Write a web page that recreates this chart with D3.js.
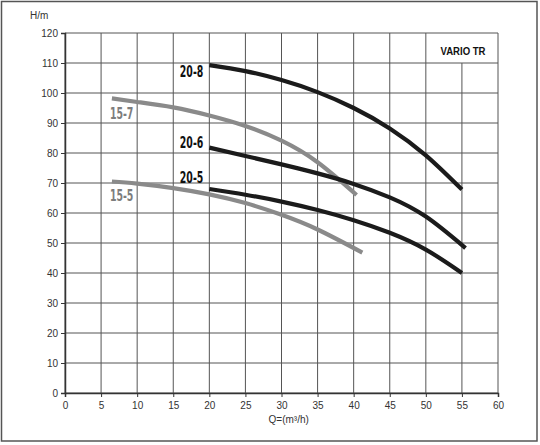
<!DOCTYPE html>
<html>
<head>
<meta charset="utf-8">
<script src="https://cdn.jsdelivr.net/npm/d3@7"></script>
<style>
  body { margin: 0; background: #fff; }
  svg { display: block; }
  .tick text { font-family: "Liberation Sans", Arial, sans-serif; font-size: 10px; fill: #333; }
</style>
</head>
<body>
<div id="chart"></div>
<script>
const width = 540,
    height = 445;

// Q in m3/h, H in m
const q15_5 = [6.5, 10, 15, 20, 25, 30, 35, 41.2];
const h15_5 = [70.5, 69.8, 68.3, 66.2, 63.3, 59.4, 54.5, 46.8];
const q15_7 = [6.5, 10, 15, 20, 25, 30, 35, 40.4];
const h15_7 = [98.2, 97.0, 95.2, 92.5, 89.0, 84.1, 76.9, 66.0];
const q20_5 = [20, 25, 30, 35, 40, 45, 50, 55];
const h20_5 = [68.0, 66.1, 63.8, 61.0, 57.6, 53.4, 47.8, 40.0];
const q20_6 = [20, 25, 30, 35, 40, 45, 50, 55.5];
const h20_6 = [81.8, 79.0, 76.2, 73.2, 69.7, 65.2, 58.8, 48.3];
const q20_8 = [20, 25, 30, 35, 40, 45, 50, 55];
const h20_8 = [109.3, 107.3, 104.3, 100.3, 95.0, 88.2, 79.2, 67.8];

const series = [
    { name: '15-5', q: q15_5, h: h15_5, color: '#8a8a8a' },
    { name: '15-7', q: q15_7, h: h15_7, color: '#8a8a8a' },
    { name: '20-5', q: q20_5, h: h20_5, color: '#1b1b1b' },
    { name: '20-6', q: q20_6, h: h20_6, color: '#1b1b1b' },
    { name: '20-8', q: q20_8, h: h20_8, color: '#1b1b1b' },
];

const xTicks = d3.range(0, 61, 5),
    yTicks = d3.range(0, 121, 10);

const x = d3.scaleLinear().domain([0, 60]).range([65, 498]),
    y = d3.scaleLinear().domain([0, 120]).range([393, 33]);

const svg = d3.select('#chart')
    .append('svg')
    .attr('width', width)
    .attr('height', height);

// outer frame
svg.append('rect')
    .attr('x', 1.5)
    .attr('y', 1.5)
    .attr('width', 535.5)
    .attr('height', 439.5)
    .attr('fill', 'none')
    .attr('stroke', '#555')
    .attr('stroke-width', 1.5);

// grid
const grid = svg.append('g').attr('stroke', '#555').attr('stroke-width', 1);

grid.selectAll('line.h')
    .data(yTicks)
    .enter()
    .append('line')
    .attr('x1', x(0))
    .attr('x2', x(60))
    .attr('y1', d => y(d))
    .attr('y2', d => y(d));

// the 55 line stops under the title box
grid.selectAll('line.v')
    .data(xTicks)
    .enter()
    .append('line')
    .attr('x1', d => x(d))
    .attr('x2', d => x(d))
    .attr('y1', y(0))
    .attr('y2', d => d === 55 ? y(110) : y(120));

// axes
svg.append('g')
    .attr('transform', `translate(0,${y(0)})`)
    .call(d3.axisBottom(x).tickValues(xTicks).tickSize(4).tickPadding(5))
    .call(g => g.select('.domain').attr('stroke', '#333').attr('stroke-width', 1.5))
    .call(g => g.selectAll('.tick line').attr('stroke', '#333'));

svg.append('g')
    .attr('transform', `translate(${x(0)},0)`)
    .call(d3.axisLeft(y).tickValues(yTicks).tickSize(4).tickPadding(3))
    .call(g => g.select('.domain').attr('stroke', '#333').attr('stroke-width', 1.5))
    .call(g => g.selectAll('.tick line').attr('stroke', '#333'));

// curves
const line = d3.line()
    .x(d => x(d[0]))
    .y(d => y(d[1]))
    .curve(d3.curveNatural);

svg.selectAll('path.curve')
    .data(series)
    .enter()
    .append('path')
    .attr('class', 'curve')
    .attr('d', d => line(d.q.map((v, i) => [v, d.h[i]])))
    .attr('fill', 'none')
    .attr('stroke', d => d.color)
    .attr('stroke-width', 4.2);

// curve labels, nudged off each curve's first point
const labelDy = { '15-5': 19.5, '15-7': 20.5, '20-5': -6.3, '20-6': 0.8, '20-8': 12 };
const labelFont = '"DejaVu Sans Condensed", "Liberation Sans Narrow", sans-serif';

svg.selectAll('text.lbl')
    .data(series)
    .enter()
    .append('text')
    .attr('class', 'lbl')
    .text(d => d.name)
    .attr('x', d => d.name.startsWith('15') ? x(d.q[0]) - 2 : x(d.q[0]) - 6)
    .attr('y', d => y(d.h[0]) + labelDy[d.name])
    .attr('text-anchor', d => d.name.startsWith('15') ? 'start' : 'end')
    .attr('font-family', labelFont)
    .attr('font-weight', 'bold')
    .attr('font-size', 16)
    .attr('textLength', 23.5)
    .attr('lengthAdjust', 'spacingAndGlyphs')
    .attr('fill', d => d.name.startsWith('15') ? '#7d7d7d' : '#111');

svg.append('text')
    .text('VARIO TR')
    .attr('x', 485.5)
    .attr('y', 54.5)
    .attr('text-anchor', 'end')
    .attr('font-family', '"Liberation Sans", Arial, sans-serif')
    .attr('font-weight', 'bold')
    .attr('font-size', 10.5)
    .attr('textLength', 45)
    .attr('lengthAdjust', 'spacingAndGlyphs')
    .attr('fill', '#111');

svg.append('text')
    .text('H/m')
    .attr('x', 30)
    .attr('y', 19)
    .attr('font-family', '"Liberation Sans", Arial, sans-serif')
    .attr('font-size', 10)
    .attr('fill', '#333');

svg.append('text')
    .text('Q=(m³/h)')
    .attr('x', x(31))
    .attr('y', 423)
    .attr('text-anchor', 'middle')
    .attr('font-family', '"Liberation Sans", Arial, sans-serif')
    .attr('font-size', 10)
    .attr('fill', '#333');
</script>
</body>
</html>
